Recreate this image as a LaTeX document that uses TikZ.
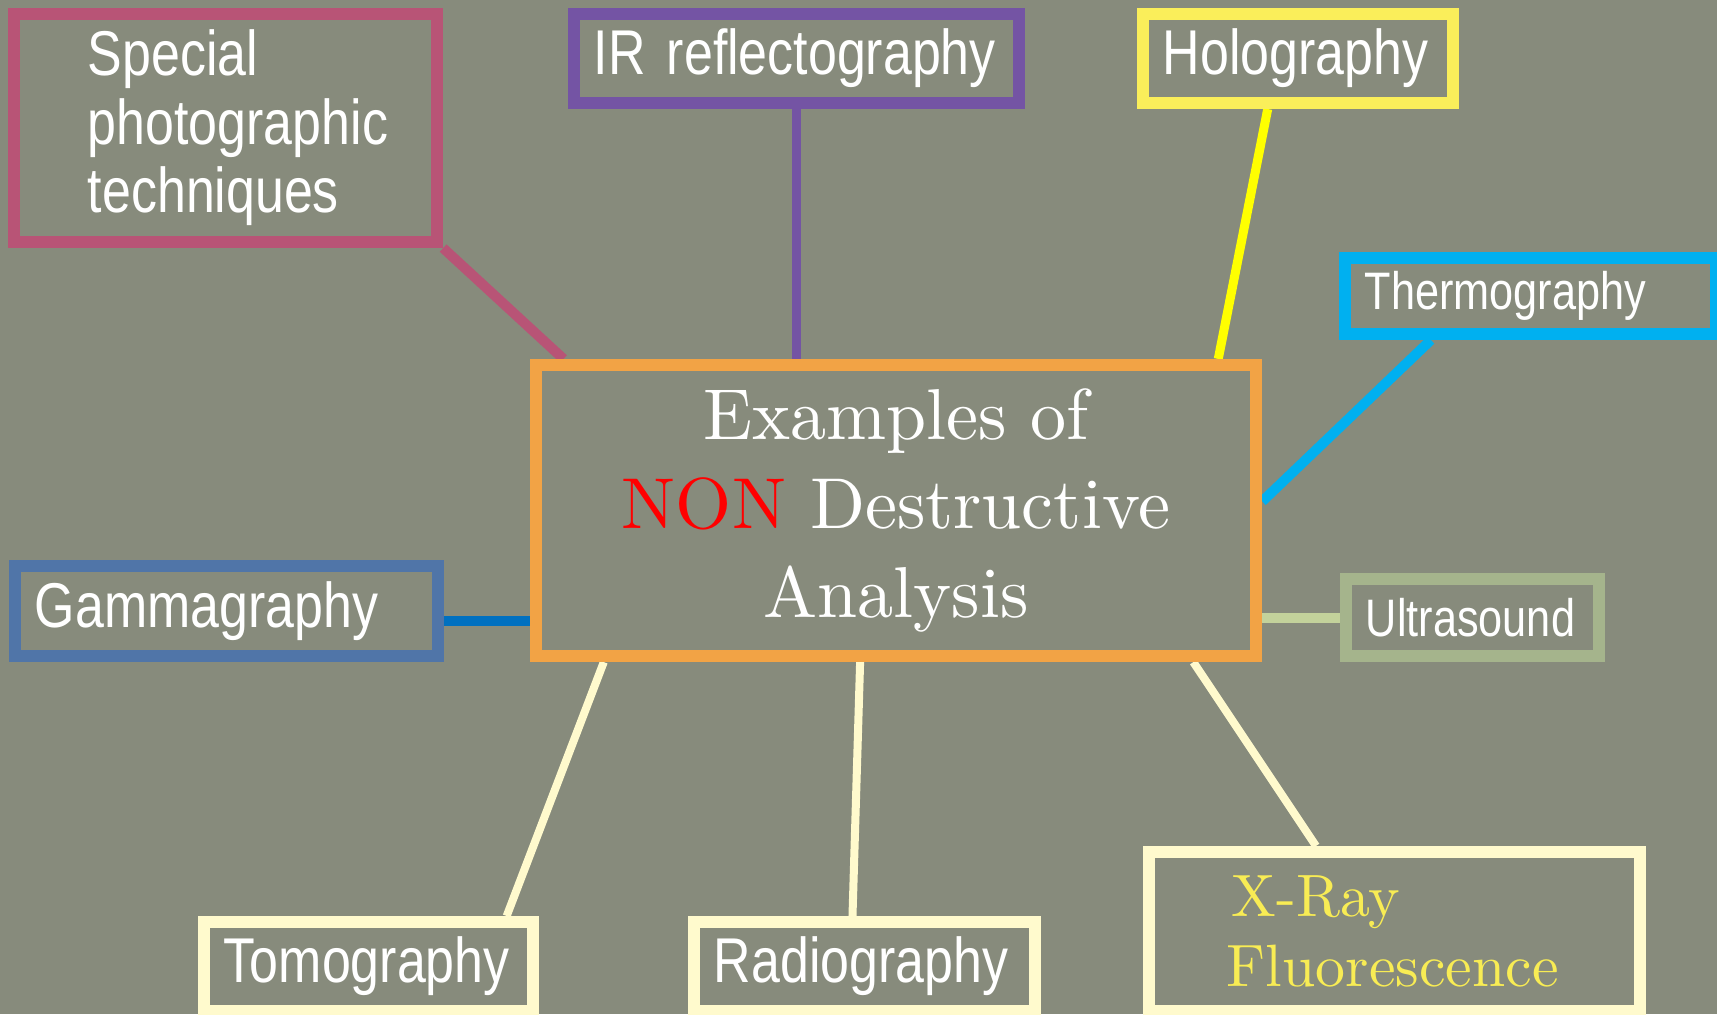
\documentclass[tikz,border=0pt]{standalone}
\usepackage{fontspec}
\newfontfamily\narrowsans[FakeStretch=0.82]{Liberation Sans}
\newfontfamily\hubfont{lmroman10-regular.otf}
\usetikzlibrary{calc,backgrounds}
\hyphenpenalty=10000
\hfuzz=40pt

\definecolor{chalkgray}{RGB}{135,139,124}
\definecolor{rosepink}{RGB}{184,84,118}
\definecolor{irpurple}{RGB}{116,84,164}
\definecolor{holoyellow}{RGB}{250,238,90}
\definecolor{lineyellow}{RGB}{255,255,0}
\definecolor{thermocyan}{RGB}{0,176,240}
\definecolor{huborange}{RGB}{242,163,69}
\definecolor{gammablue}{RGB}{80,117,168}
\definecolor{lineblue}{RGB}{0,112,192}
\definecolor{sagegreen}{RGB}{165,180,140}
\definecolor{linegreen}{RGB}{195,210,155}
\definecolor{cream}{RGB}{255,250,205}
\definecolor{xrfyellow}{RGB}{248,236,84}

\tikzset{
  techbox/.style={draw, line width=0.12cm, inner xsep=0.2cm, inner ysep=0pt,
    align=left, text=white, font=\narrowsans\fontsize{18pt}{19.5pt}\selectfont},
  small techbox/.style={techbox, font=\narrowsans\fontsize{15pt}{17pt}\selectfont},
  spoke/.style={line width=0.1cm},
}

\begin{document}
\begin{tikzpicture}[x=0.01cm, y=-0.01cm]
		\useasboundingbox (0,0) rectangle (1717,1014);
		
		% The hub in the middle
		\node[draw=huborange, line width=0.12cm, minimum width=7.2cm, minimum height=2.91cm,
		align=center, text=white, font=\hubfont\fontsize{20.5pt}{25.3pt}\selectfont] (center) at (896,510.5)
		{Examples of\\\textcolor{red}{NON} Destructive\\Analysis};
		
		% Techniques round it
		\node[techbox, draw=rosepink, text width=2.75cm, inner xsep=0.74cm, minimum height=2.28cm] (special) at (225.5,128) {Special\\photographic\\techniques};
		\node[techbox, draw=irpurple, text width=4.05cm, minimum height=0.89cm] (ir) at (796.5,58.5) {IR reflectography};
		\node[techbox, draw=holoyellow, text width=2.7cm, minimum height=0.89cm] (holo) at (1298,58.5) {Holography};
		\node[small techbox, draw=thermocyan, text width=3.31cm, minimum height=0.76cm] (thermo) at (1530.5,296) {Thermography};
		\node[techbox, draw=gammablue, text width=3.83cm, minimum height=0.9cm] (gamma) at (226.5,611) {Gammagraphy};
		\node[small techbox, draw=sagegreen, text width=2.13cm, minimum height=0.77cm] (ultra) at (1472.5,617.5) {Ultrasound};
		\node[techbox, draw=cream, text width=2.89cm, minimum height=0.89cm] (tomo) at (368.5,966.5) {Tomography};
		\node[techbox, draw=cream, text width=3.01cm, minimum height=0.89cm] (radio) at (864.5,966.5) {Radiography};
		\node[techbox, draw=cream, text width=3.35cm, inner xsep=0.78cm, minimum height=1.59cm,
		text=xrfyellow, font=\hubfont\fontsize{17pt}{20pt}\selectfont] (xrf) at (1394.5,931.5) {\hspace*{0.05cm}X-Ray\\Fluorescence};
		
		\begin{pgfonlayer}{background}
		\fill[chalkgray] (0,0) rectangle (1717,1014);
		
		% Spokes from the hub
		\draw[spoke, rosepink] (special.south east) -- ($(center.north west)!0.046!(center.north east)$);
		\draw[spoke, irpurple, line width=0.09cm] (ir.south) -- (ir.south |- center.north);
		\draw[spoke, lineyellow, line width=0.09cm] ($(holo.south west)!0.406!(holo.south east)$) -- ($(center.north west)!0.94!(center.north east)$);
		\draw[spoke, thermocyan] ($(thermo.south west)!0.24!(thermo.south east)$) -- ($(center.north east)!0.47!(center.south east)$);
		\draw[spoke, lineblue] ($(gamma.north east)!0.6!(gamma.south east)$) coordinate (g) -- (g -| center.west);
		\draw[spoke, linegreen] (ultra.west) -- (ultra.west -| center.east);
		\draw[spoke, cream, line width=0.08cm] ($(center.south west)!0.101!(center.south east)$) -- ($(tomo.north west)!0.905!(tomo.north east)$);
		\draw[spoke, cream, line width=0.08cm] ($(center.south west)!0.451!(center.south east)$) -- ($(radio.north west)!0.466!(radio.north east)$);
		\draw[spoke, cream, line width=0.08cm] ($(center.south west)!0.906!(center.south east)$) -- ($(xrf.north west)!0.344!(xrf.north east)$);
		\end{pgfonlayer}
		
	\end{tikzpicture}
\end{document}
